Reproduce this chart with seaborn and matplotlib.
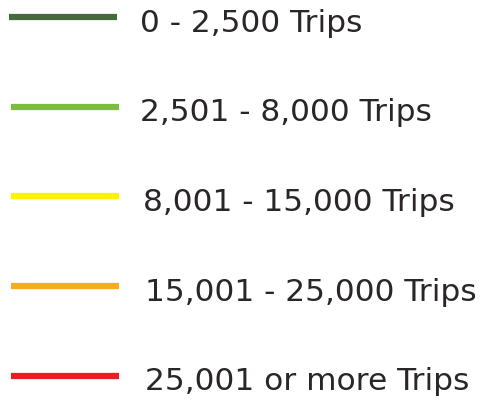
import pandas as pd
import seaborn as sns
import matplotlib.pyplot as plt

# legend classes and their colours
labels = ["0 - 2,500 Trips", "2,501 - 8,000 Trips", "8,001 - 15,000 Trips",
          "15,001 - 25,000 Trips", "25,001 or more Trips"]
colors = ["#436b3b", "#7dbb42", "#fff200", "#fbaa1f", "#ed1c24"]

sns.set_style("white")
plt.rcParams['font.family'] = ['DejaVu Sans']

fig = plt.figure(figsize=(4.85, 4.0), dpi=100)
ax = fig.add_axes([0, 0, 1, 1])
ax.set_xlim(0, 485)
ax.set_ylim(400, 0)
ax.axis("off")

# layout of the legend rows (pixels)
top, step = 17, 89.7
rows = []
for i, (lab, col) in enumerate(zip(labels, colors)):
    y = top + i * step
    x0 = 9 if i == 0 else 11
    rows.append({"label": lab, "x": x0, "y": y})
    rows.append({"label": lab, "x": x0 + 108, "y": y})
df = pd.DataFrame(rows)

sns.lineplot(data=df, x="x", y="y", hue="label", palette=dict(zip(labels, colors)),
             linewidth=4.5, legend=False, ax=ax, solid_capstyle="butt", sort=False)

text_x = [140, 140, 143, 145, 145]
for i, lab in enumerate(labels):
    ax.text(text_x[i], top + i * step + 6, lab, fontsize=22.5, color="#2a2627",
            va="center", ha="left")

fig.savefig("out.png", dpi=100)
